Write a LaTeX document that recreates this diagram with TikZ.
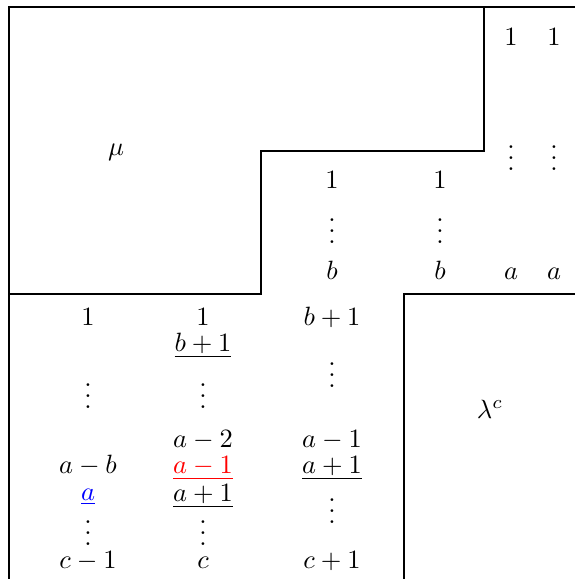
\documentclass[tikz,border=0pt]{standalone}
\usepackage{xcolor}
\newcommand{\tightvdots}{\vbox{\baselineskip4pt\lineskiplimit0pt\hbox{.}\hbox{.}\hbox{.}}}
\begin{document}
\begin{tikzpicture}[x=0.378pt,y=-0.378pt,
  lbl/.style={inner sep=0pt,anchor=base},
  edge/.style={line width=0.8pt}]
\useasboundingbox (0,0) rectangle (575,579);
% outer frame
\draw[edge] (9,579) -- (9,7) -- (575,7);
% mu boundary
\draw[edge] (9,294) -- (261,294) -- (261,151) -- (484,151) -- (484,7);
% lambda^c boundary
\draw[edge] (404,579) -- (404,294) -- (575,294);
% region labels
\node[lbl] (mu) at (116,155) {$\mu$};
\node[lbl] (lam) at (490,418) {$\lambda^c$};
% top-right columns
\node[lbl] (t51) at (511,45) {$1$};
\node[lbl] (t61) at (554,45) {$1$};
\node[lbl] (t5d) at (511,170) {\tightvdots};
\node[lbl] (t6d) at (554,170) {\tightvdots};
\node[lbl] (t5a) at (511,279) {$a$};
\node[lbl] (t6a) at (554,279) {$a$};
% middle columns
\node[lbl] (m31) at (332,188) {$1$};
\node[lbl] (m41) at (440,188) {$1$};
\node[lbl] (m3d) at (332,243) {\tightvdots};
\node[lbl] (m4d) at (440,243) {\tightvdots};
\node[lbl] (m3b) at (332,279) {$b$};
\node[lbl] (m4b) at (440,279) {$b$};
% bottom column 1
\node[lbl] (b11) at (88,325) {$1$};
\node[lbl] (b1d) at (88,408) {\tightvdots};
\node[lbl] (b1ab) at (88,473) {$a-b$};
\node[lbl] (b1a) at (88,500) {\textcolor{blue}{$\underline{a}$}};
\node[lbl] (b1d2) at (88,545) {\tightvdots};
\node[lbl] (b1c) at (88,568) {$c-1$};
% bottom column 2
\node[lbl] (b21) at (203,325) {$1$};
\node[lbl] (b2b) at (203,351) {$\underline{b+1}$};
\node[lbl] (b2d) at (203,408) {\tightvdots};
\node[lbl] (b2a2) at (203,447) {$a-2$};
\node[lbl] (b2a1) at (203,473) {\textcolor{red}{$\underline{a-1}$}};
\node[lbl] (b2ap) at (203,501) {$\underline{a+1}$};
\node[lbl] (b2d2) at (203,545) {\tightvdots};
\node[lbl] (b2c) at (203,568) {$c$};
% bottom column 3
\node[lbl] (b3b) at (332,325) {$b+1$};
\node[lbl] (b3d) at (332,387) {\tightvdots};
\node[lbl] (b3a1) at (332,447) {$a-1$};
\node[lbl] (b3ap) at (332,473) {$\underline{a+1}$};
\node[lbl] (b3d2) at (332,523) {\tightvdots};
\node[lbl] (b3c) at (332,568) {$c+1$};
\end{tikzpicture}
\end{document}
